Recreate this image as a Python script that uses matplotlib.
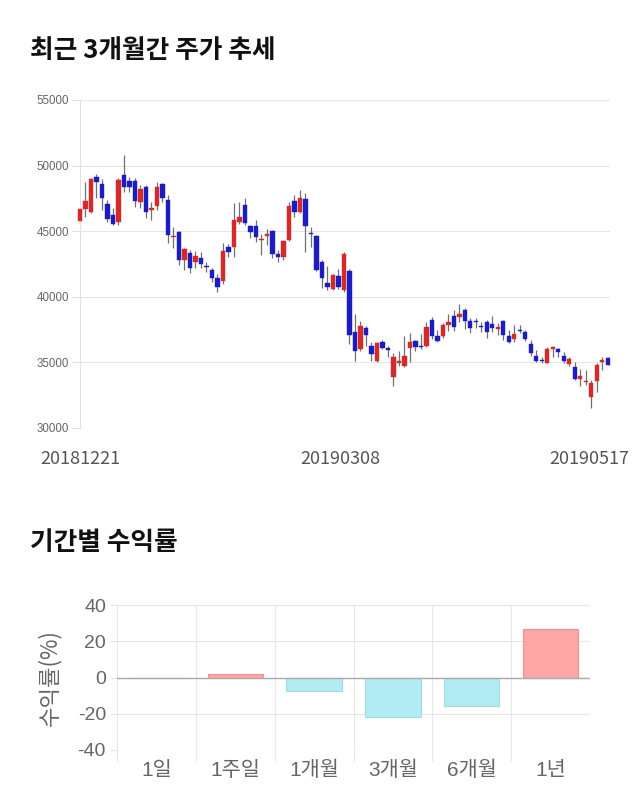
import matplotlib
matplotlib.use("Agg")
import matplotlib.pyplot as plt
import matplotlib.transforms as mtransforms
import numpy as np

plt.rcParams['font.family'] = ['Noto Sans CJK KR', 'DejaVu Sans']
LAT = ['Liberation Sans', 'Noto Sans CJK KR', 'DejaVu Sans']

# ---------------- data: daily candles ----------------
opens = [45809, 46698, 46495, 49162, 48578, 47054, 46241, 45682, 49289, 48832,
         48832, 47257, 48400, 46597, 46952, 48578, 47384, 44564, 44971, 42812,
         43320, 42634, 42939, 42380, 42050, 41415, 41212, 43777, 43828, 45733,
         47003, 45403, 45408, 44312, 44618, 45000, 43292, 43037, 44312, 47295,
         46479, 47423, 44873, 44643, 42654, 41048, 40614, 41558, 40487, 41940,
         37299, 36024, 37656, 36228, 35081, 36585, 36101, 33857, 34928, 34749,
         36101, 36636, 36228, 36279, 38243, 37003, 37003, 37841, 38527, 38476,
         38984, 38146, 38146, 37765, 38095, 37892, 37562, 38171, 37003, 36749,
         37460, 37333, 36393, 35479, 35174, 34971, 36012, 36012, 35504, 34844,
         34666, 33701, 33472, 32329, 33574, 35047, 35301]
closes = [46673, 47308, 48984, 48730, 47511, 45936, 45530, 48908, 48400, 48400,
          47308, 48222, 46444, 46749, 48349, 47562, 44717, 44666, 42812, 43650,
          42228, 43117, 42482, 42278, 41415, 40780, 43498, 43447, 45860, 46114,
          45606, 44920, 44567, 44439, 44822, 43292, 43037, 44261, 46913, 46479,
          47499, 45383, 44771, 42017, 41456, 40742, 41685, 40742, 43241, 37121,
          35897, 37758, 37121, 35642, 36458, 36101, 35948, 35387, 35132, 35515,
          36585, 36152, 36152, 37682, 36993, 36647, 37841, 38044, 37714, 38705,
          38146, 37638, 38095, 37663, 37333, 37587, 37663, 37079, 36571, 37181,
          37409, 36774, 35682, 35098, 35098, 36012, 36190, 35809, 35098, 35225,
          33701, 33955, 33574, 33396, 34793, 35174, 34793]
highs = [46876, 48781, 49035, 49340, 48984, 47384, 46749, 49035, 50813, 49162,
         49035, 48527, 48527, 47257, 48730, 48654, 47765, 45352, 45022, 43701,
         43574, 43498, 43396, 42685, 42228, 41720, 44082, 44006, 47130, 47206,
         47511, 45479, 45842, 44822, 45204, 45077, 43547, 44363, 47244, 47754,
         48137, 47882, 45332, 44694, 42782, 42323, 41762, 42144, 43419, 42144,
         38702, 38192, 37809, 36534, 36534, 36713, 36279, 35693, 35897, 37044,
         37223, 36713, 37172, 38064, 38447, 37460, 37968, 38654, 38984, 39416,
         39111, 38349, 38400, 38095, 38222, 38552, 37968, 38222, 37460, 37841,
         37841, 37460, 36698, 35936, 35428, 36190, 36266, 36114, 35758, 35428,
         35047, 34488, 34412, 33650, 34920, 35428, 35428]
lows = [45606, 46114, 46368, 47511, 46622, 45733, 45479, 45479, 48019, 48019,
        46876, 46749, 46038, 45860, 46622, 47257, 44082, 43701, 42431, 42050,
        41796, 42177, 42228, 41923, 41110, 40399, 40958, 43066, 43066, 45530,
        45479, 44463, 44184, 43164, 43929, 42986, 42654, 42782, 44235, 46097,
        46352, 43419, 43802, 41966, 40691, 40538, 40487, 40614, 40359, 36407,
        35132, 35897, 36279, 35132, 35004, 36024, 35387, 33219, 34749, 34622,
        35004, 35897, 36024, 36152, 36789, 36571, 36825, 37384, 37384, 38095,
        37511, 37206, 37638, 37333, 36825, 37282, 37079, 36698, 36444, 36571,
        37206, 36647, 35479, 34996, 34920, 34920, 35428, 35428, 34920, 34717,
        33650, 33218, 33269, 31542, 32761, 34412, 34793]
date_ticks = [0, 48, 96]
date_labels = ['20181221', '20190308', '20190517']
price_ticks = [30000, 35000, 40000, 45000, 50000, 55000]

# ---------------- data: period returns ----------------
periods = ['1일', '1주일', '1개월', '3개월', '6개월', '1년']
returns = [0.0, 2.2, -7.5, -21.7, -15.6, 26.7]

UP = '#d42a2a'
DOWN = '#1c1cc0'

fig = plt.figure(figsize=(6.4, 8.1), dpi=100)

# ---------------- titles ----------------
fig.text(30/640, 1 - 51/810, '최근 3개월간 주가 추세', fontsize=18.5, fontweight='bold',
         color='#111111', ha='left', va='center')
fig.text(30/640, 1 - 543/810, '기간별 수익률', fontsize=18.5, fontweight='bold',
         color='#111111', ha='left', va='center')

# ---------------- candlestick chart ----------------
ax = fig.add_axes([80/640, 1 - 428/810, 530/640, 328/810])
n = len(opens)
x = np.arange(n)
o = np.array(opens, float); c = np.array(closes, float)
h = np.array(highs, float); l = np.array(lows, float)
cols = [UP if cc >= oo else DOWN for oo, cc in zip(o, c)]
ax.vlines(x, l, h, colors='#707070', linewidth=0.9, zorder=2, clip_on=False)
bottoms = np.minimum(o, c)
heights = np.maximum(np.abs(c - o), 60)
ax.bar(x, heights, bottom=bottoms, width=0.78, color=cols, edgecolor=cols,
       linewidth=0.3, zorder=3, clip_on=False)
ax.set_xlim(0, n - 1 + 0.4)
ax.set_ylim(30000, 55000)
ax.set_yticks(price_ticks)
ax.set_yticklabels([str(v) for v in price_ticks], family=LAT)
ax.grid(axis='y', color='#e6e6e6', linewidth=0.8, zorder=0)
ax.set_axisbelow(True)
for s in ['top', 'right', 'bottom']:
    ax.spines[s].set_visible(False)
ax.spines['left'].set_color('#e0e0e0')
ax.tick_params(axis='y', length=6, width=0.8, color='#e0e0e0', labelsize=8.3,
               labelcolor='#666666', pad=2)
ax.set_xticks(date_ticks)
ax.set_xticklabels(date_labels)
ax.tick_params(axis='x', length=0, labelsize=13, labelcolor='#555555', pad=16)
labs = ax.get_xticklabels()
labs[1].set_transform(labs[1].get_transform() +
                      mtransforms.ScaledTranslation(-0.04, 0, fig.dpi_scale_trans))
labs[-1].set_transform(labs[-1].get_transform() +
                       mtransforms.ScaledTranslation(-0.18, 0, fig.dpi_scale_trans))

# ---------------- returns bar chart ----------------
bx = fig.add_axes([117/640, 1 - 750/810, 473/640, 145/810])
pos = np.arange(len(periods))
bcols = ['#ffa6a6' if v >= 0 else '#b2ebf4' for v in returns]
ecols = ['#f09090' if v >= 0 else '#9fdbe6' for v in returns]
bx.bar(pos, returns, width=0.7, color=bcols, edgecolor=ecols, linewidth=0.8, zorder=3)
bx.axhline(0, color='#aaaaaa', linewidth=1, zorder=4)
bx.set_xlim(-0.5, len(periods) - 0.5)
bx.set_ylim(-40, 40)
bx.set_yticks([-40, -20, 0, 20, 40])
bx.set_yticklabels(['-40', '-20', '0', '20', '40'], family=LAT)
bx.set_xticks(pos)
bx.set_xticklabels(periods, family=LAT)
bx.set_xticks(pos - 0.5, minor=True)
bx.grid(axis='y', color='#e6e6e6', linewidth=0.8, zorder=0)
bx.grid(axis='x', which='minor', color='#e6e6e6', linewidth=0.8, zorder=0)
bx.grid(axis='x', which='major', visible=False)
for s in bx.spines.values():
    s.set_visible(False)
bx.tick_params(axis='y', length=5, width=0.8, color='#e6e6e6', labelsize=14,
               labelcolor='#666666', pad=3)
bx.tick_params(axis='x', which='major', length=0, labelsize=15, labelcolor='#666666', pad=8)
bx.tick_params(axis='x', which='minor', length=8, width=0.8, color='#e6e6e6')
bx.set_ylabel('수익률(%)', fontsize=16, color='#666666', labelpad=12)

fig.savefig('out.png', dpi=100)
